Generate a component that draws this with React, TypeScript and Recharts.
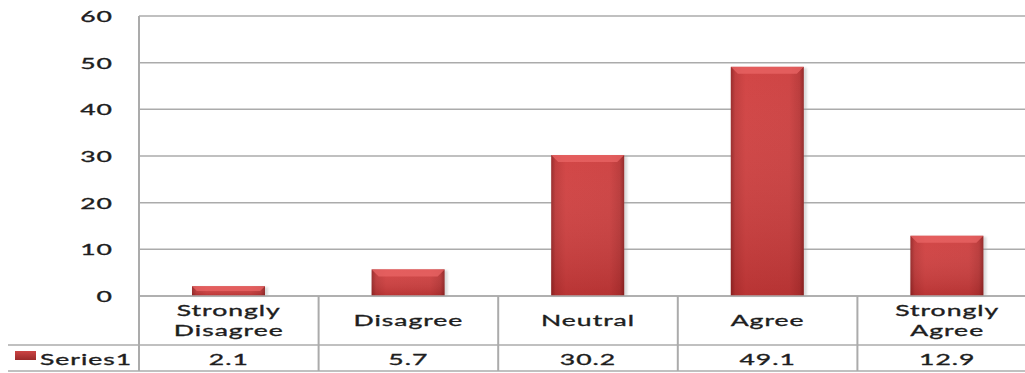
import React from 'react';
import { BarChart, Bar, XAxis, YAxis, CartesianGrid } from 'recharts';

// Survey response shares (%) per answer category
const categories = ['Strongly\nDisagree', 'Disagree', 'Neutral', 'Agree', 'Strongly\nAgree'];
const series1 = [2.1, 5.7, 30.2, 49.1, 12.9];
const seriesName = 'Series1';
const yTicks = [0, 10, 20, 30, 40, 50, 60];

const data = categories.map((c, i) => ({ category: c, value: series1[i] }));

const CHART_W = 1040;
const CHART_H = 373;
const PLOT_LEFT = 139;
const PLOT_RIGHT_MARGIN = 3;
const PLOT_TOP = 16;
const TABLE_H = 77;
const CELL_W = (CHART_W - PLOT_LEFT - PLOT_RIGHT_MARGIN) / categories.length;

const FONT = 'Lato, "Open Sans", sans-serif';
const FS = 16;
const SX = 1.66;
const INK = '#1e1e1e';
const GRID = '#ABABAB';

const Stretched = ({ x, y, anchor, children }: any) => (
  <text
    transform={`translate(${x},${y}) scale(${SX},1)`}
    textAnchor={anchor}
    fontFamily={FONT}
    fontSize={FS}
    fill={INK}
    stroke={INK}
    strokeWidth={0.35}
    letterSpacing={0.6}
  >
    {children}
  </text>
);

const YTick = ({ x, y, payload }: any) => (
  <Stretched x={x} y={y + 6} anchor="end">
    {payload.value}
  </Stretched>
);

// Category label + value cell of the data table under the plot
const TableTick = ({ x, y, payload, index }: any) => {
  const lines = String(payload.value).split('\n');
  const top = y;
  const rowSplit = top + 49;
  const bottom = top + 75;
  const labelYs = lines.length === 2 ? [top + 20, top + 40] : [top + 30];
  return (
    <g>
      {index === 0 && (
        <g>
          <line x1={8} x2={CHART_W} y1={rowSplit} y2={rowSplit} stroke={GRID} strokeWidth={1.5} />
          <line x1={8} x2={CHART_W} y1={bottom} y2={bottom} stroke={GRID} strokeWidth={1.5} />
          <line x1={PLOT_LEFT} x2={PLOT_LEFT} y1={PLOT_TOP} y2={bottom} stroke={GRID} strokeWidth={2} />
          <rect x={15} y={rowSplit + 6} width={21} height={9} fill="url(#keyFill)" />
          <Stretched x={40} y={rowSplit + 20} anchor="start">
            {seriesName}
          </Stretched>
        </g>
      )}
      <line
        x1={x + CELL_W / 2}
        x2={x + CELL_W / 2}
        y1={top}
        y2={bottom}
        stroke={GRID}
        strokeWidth={2}
      />
      {lines.map((l, i) => (
        <Stretched key={i} x={x} y={labelYs[i]} anchor="middle">
          {l}
        </Stretched>
      ))}
      <Stretched x={x} y={rowSplit + 20} anchor="middle">
        {series1[index]}
      </Stretched>
    </g>
  );
};

// Bevelled red column
const BevelBar = ({ x, y, width, height }: any) => {
  if (!height || height <= 0) return null;
  const b = Math.min(7, height / 2);
  return (
    <g>
      <rect x={x + 1} y={y + 1} width={width + 2} height={height - 1} fill="#999" opacity={0.35} filter="url(#soft)" />
      <rect x={x} y={y} width={width} height={height} fill="url(#barH)" />
      <rect x={x} y={y} width={width} height={height} fill="url(#barV)" />
      <polygon
        points={`${x},${y} ${x + width},${y} ${x + width - b},${y + b} ${x + b},${y + b}`}
        fill="#EA6666"
        opacity={0.75}
      />
    </g>
  );
};

export default function App() {
  return (
    <div
      style={{
        position: 'fixed',
        left: 0,
        top: 0,
        width: 1025,
        height: CHART_H,
        overflow: 'hidden',
        background: '#fff',
      }}
    >
      <BarChart
        width={CHART_W}
        height={CHART_H}
        data={data}
        margin={{ top: PLOT_TOP, right: PLOT_RIGHT_MARGIN, bottom: 0, left: 0 }}
        barSize={73}
      >
        <defs>
          <linearGradient id="barH" x1="0" y1="0" x2="1" y2="0">
            <stop offset="0" stopColor="#942424" />
            <stop offset="0.06" stopColor="#BE3636" />
            <stop offset="0.2" stopColor="#D03E3E" />
            <stop offset="0.8" stopColor="#CC3D3D" />
            <stop offset="0.94" stopColor="#B83434" />
            <stop offset="1" stopColor="#902222" />
          </linearGradient>
          <linearGradient id="barV" x1="0" y1="0" x2="0" y2="1">
            <stop offset="0" stopColor="#ffffff" stopOpacity={0.04} />
            <stop offset="1" stopColor="#5a0a0a" stopOpacity={0.2} />
          </linearGradient>
          <linearGradient id="keyFill" x1="0" y1="0" x2="0" y2="1">
            <stop offset="0" stopColor="#CC4444" />
            <stop offset="1" stopColor="#9A2A2A" />
          </linearGradient>
          <filter id="soft" x="-20%" y="-20%" width="140%" height="140%">
            <feGaussianBlur stdDeviation="1.2" />
          </filter>
        </defs>
        <CartesianGrid vertical={false} stroke={GRID} strokeWidth={1.5} />
        <YAxis
          width={PLOT_LEFT}
          domain={[0, 60]}
          ticks={yTicks}
          tickLine={false}
          tickSize={0}
          tickMargin={26}
          axisLine={false}
          tick={<YTick />}
          interval={0}
        />
        <XAxis
          dataKey="category"
          height={TABLE_H}
          tickLine={false}
          tickSize={0}
          tickMargin={0}
          axisLine={{ stroke: GRID, strokeWidth: 1.5 }}
          tick={<TableTick />}
          interval={0}
        />
        <Bar dataKey="value" shape={<BevelBar />} isAnimationActive={false} />
      </BarChart>
    </div>
  );
}
